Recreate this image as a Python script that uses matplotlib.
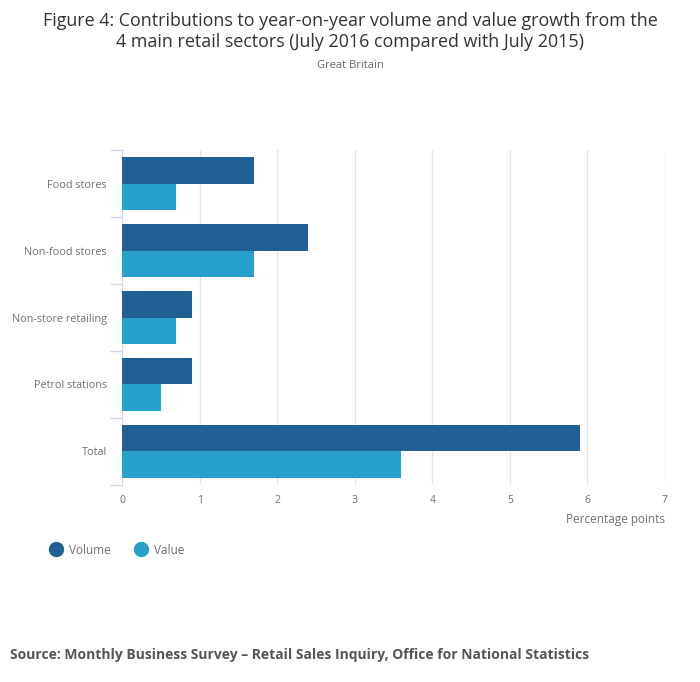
import numpy as np
import matplotlib.pyplot as plt

# Data
categories = ["Food stores", "Non-food stores", "Non-store retailing", "Petrol stations", "Total"]
volume = [1.7, 2.4, 0.9, 0.9, 5.9]
value = [0.7, 1.7, 0.7, 0.5, 3.6]
x_ticks = [0, 1, 2, 3, 4, 5, 6, 7]

VOLUME_COLOR = "#206095"
VALUE_COLOR = "#27a0cc"
TEXT_COLOR = "#707070"

plt.rcParams['font.family'] = ['Open Sans', 'DejaVu Sans']

fig = plt.figure(figsize=(7, 6.82), dpi=100)
ax = fig.add_axes([0.1743, 0.2889, 0.7757, 0.4911])

y = np.arange(len(categories))
bar_h = 0.4
ax.barh(y - bar_h / 2, volume, height=bar_h, color=VOLUME_COLOR, label="Volume", zorder=3)
ax.barh(y + bar_h / 2, value, height=bar_h, color=VALUE_COLOR, label="Value", zorder=3)

ax.set_xlim(0, 7)
ax.set_ylim(len(categories) - 0.5, -0.5)
ax.set_xticks(x_ticks)
ax.set_xticklabels([str(t) for t in x_ticks], fontsize=7.5, color=TEXT_COLOR)
ax.set_yticks(y)
ax.set_yticklabels(categories, fontsize=7.8, color=TEXT_COLOR)
ax.tick_params(axis='y', length=0, pad=11)
ax.tick_params(axis='x', length=0, pad=7)

# category separator ticks on y axis
ax.set_yticks(np.arange(-0.5, len(categories)), minor=True)
ax.tick_params(axis='y', which='minor', length=9, color="#ccd6eb", width=1, direction='out')

ax.grid(axis='x', color="#e6e6e6", linewidth=1, zorder=0)
for side in ['top', 'right', 'bottom']:
    ax.spines[side].set_visible(False)
ax.spines['left'].set_color("#ccd6eb")

ax.set_xlabel("Percentage points", fontsize=8.5, color=TEXT_COLOR, loc='right', labelpad=5)

fig.text(0.5, 0.982, "Figure 4: Contributions to year-on-year volume and value growth from the\n"
         "4 main retail sectors (July 2016 compared with July 2015)",
         ha='center', va='top', fontsize=12.9, color="#333333", linespacing=1.2)
fig.text(0.5, 0.904, "Great Britain", ha='center', va='center', fontsize=8, color="#666666")

# legend
fig.legend(loc='upper left', bbox_to_anchor=(0.057, 0.218), ncol=2, frameon=False,
           handlelength=1.0, handleheight=1.0, handletextpad=0.6, columnspacing=2.0,
           fontsize=8.5, labelcolor=TEXT_COLOR,
           handles=[plt.Line2D([], [], marker='o', ls='', color=VOLUME_COLOR, markersize=10),
                    plt.Line2D([], [], marker='o', ls='', color=VALUE_COLOR, markersize=10)],
           labels=["Volume", "Value"])

fig.text(0.014, 0.04, "Source: Monthly Business Survey \u2013 Retail Sales Inquiry, Office for National Statistics",
         ha='left', va='center', fontsize=10, fontweight='bold', color="#555555")

fig.savefig("out.png", dpi=100)
